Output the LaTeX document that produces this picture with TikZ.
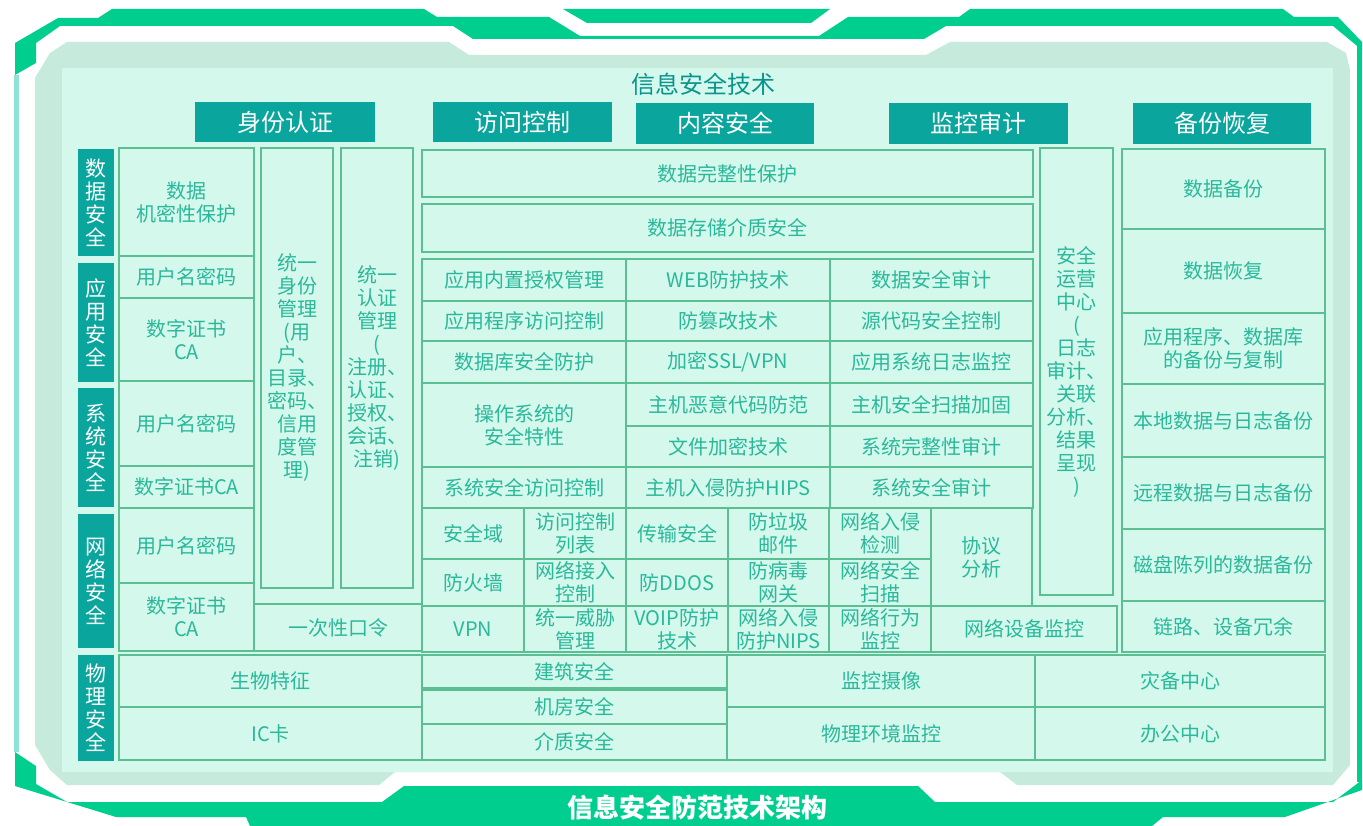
\documentclass[tikz,border=0pt]{standalone}
\usepackage{fontspec}
\setmainfont{Noto Sans CJK SC}

\definecolor{FrameGreen}{HTML}{00CE8F}
\definecolor{FrameLight}{HTML}{8FE3D6}
\definecolor{MintBand}{HTML}{C6EBDC}
\definecolor{PanelFill}{HTML}{D4F8EC}
\definecolor{HeadTeal}{HTML}{0AA59C}
\definecolor{CellLine}{HTML}{5CBF93}
\definecolor{CellText}{HTML}{2AB89B}

\tikzset{
  CellStyle/.style={draw=CellLine, line width=2.5pt, fill=PanelFill, text=CellText,
    align=center, inner sep=0pt, outer sep=0pt, font=\fontsize{20}{23}\selectfont},
  HeadStyle/.style={fill=HeadTeal, text=white, inner sep=0pt,
    font=\fontsize{24}{28}\selectfont},
  SideStyle/.style={fill=HeadTeal, text=white, align=center, inner sep=0pt,
    font=\fontsize{21}{23}\selectfont},
}

% box from (x1,y1) to (x2,y2), pixel units, y down
\newcommand{\InfoCell}[7][CellStyle]{%
  \pgfmathsetmacro{\cellX}{(#3+#5)/2}%
  \pgfmathsetmacro{\cellY}{(#4+#6)/2}%
  \pgfmathsetmacro{\cellW}{#5-#3}%
  \pgfmathsetmacro{\cellH}{#6-#4}%
  \node[#1, minimum width=\cellW pt, minimum height=\cellH pt] (#2) at (\cellX,\cellY) {#7};%
}

\begin{document}
\begin{tikzpicture}[x=1pt,y=-1pt]
    \useasboundingbox (0,0) rectangle (1363,826);
    \fill[white] (0,0) rectangle (1363,826);
    % frame
    \fill[FrameLight] (14,75) rectangle (19,752);
    \fill[FrameGreen] (15,75) -- (15,43) -- (58,18) -- (98,18) -- (112,9) -- (424,9)
        -- (437,17) -- (549,17) -- (580,36) -- (819,36) -- (848,17) -- (959,17)
        -- (970,9) -- (1283,9) -- (1294,17) -- (1338,17) -- (1362,42) -- (1362,50)
        -- (1333,26) -- (946,26) -- (924,39) -- (473,39) -- (453,26) -- (60,26)
        -- (36,43) -- (36,63) -- cycle;
    \fill[FrameGreen] (563,9) -- (830,9) -- (811,23) -- (587,23) -- cycle;
    \fill[FrameGreen] (1357,46) rectangle (1362,782);
    \fill[FrameGreen] (15,752) -- (36,766) -- (36,784) -- (67,802) -- (382,802)
        -- (404,786) -- (918,786) -- (935,802) -- (1333,802) -- (1362,780)
        -- (1362,790) -- (1285,817) -- (1163,817) -- (1152,826) -- (250,826)
        -- (246,817) -- (116,817) -- (15,786) -- cycle;
    \fill[MintBand] (35,78) -- (50,53) -- (67,42) -- (449,42) -- (469,55) -- (926,55)
        -- (950,42) -- (1327,42) -- (1346,53) -- (1350,70) -- (1350,765) -- (1333,785)
        -- (1017,785) -- (1000,772) -- (395,772) -- (379,785) -- (67,785) -- (50,770)
        -- (35,745) -- cycle;
    \fill[PanelFill] (62,68) rectangle (1333,772);
    \node[text=HeadTeal!90!black, font=\fontsize{24}{28}\selectfont] (title) at (703,84) {信息安全技术};
    \node[text=white, font=\bfseries\fontsize{26}{30}\selectfont] (caption) at (697,808) {信息安全防范技术架构};

    % headers
    \InfoCell[HeadStyle]{hID}{195}{102}{375}{142}{身份认证}
    \InfoCell[HeadStyle]{hAC}{433}{102}{612}{142}{访问控制}
    \InfoCell[HeadStyle]{hCS}{636}{103}{814}{144}{内容安全}
    \InfoCell[HeadStyle]{hMA}{889}{103}{1068}{144}{监控审计}
    \InfoCell[HeadStyle]{hBR}{1133}{103}{1311}{144}{备份恢复}

    % layers
    \InfoCell[SideStyle]{sData}{78}{149}{114}{256}{数\\据\\安\\全}
    \InfoCell[SideStyle]{sApp}{78}{263}{114}{382}{应\\用\\安\\全}
    \InfoCell[SideStyle]{sSys}{78}{388}{114}{507}{系\\统\\安\\全}
    \InfoCell[SideStyle]{sNet}{78}{514}{114}{648}{网\\络\\安\\全}
    \InfoCell[SideStyle]{sPhy}{78}{655}{114}{761}{物\\理\\安\\全}

    % identity
    \InfoCell{idSecret}{119}{148}{254}{256}{数据\\机密性保护}
    \InfoCell{idPwdA}{119}{256}{254}{298}{用户名密码}
    \InfoCell{idCaA}{119}{298}{254}{381}{数字证书\\CA}
    \InfoCell{idPwdS}{119}{381}{254}{466}{用户名密码}
    \InfoCell{idCaS}{119}{466}{254}{508}{数字证书CA}
    \InfoCell{idPwdN}{119}{508}{254}{583}{用户名密码}
    \InfoCell{idCaN}{119}{583}{254}{651}{数字证书\\CA}
    \InfoCell{idManage}{261}{148}{333}{588}{统一\\身份\\管理\\(用\\户、\\目录、\\密码、\\信用\\度管\\理)}
    \InfoCell{idAuth}{341}{148}{413}{588}{统一\\认证\\管理\\(\\注册、\\认证、\\授权、\\会话、\\注销)}
    \InfoCell{idOtp}{254}{604}{422}{651}{一次性口令}

    % data rows
    \InfoCell{dIntegrity}{422}{150}{1033}{197}{数据完整性保护}
    \InfoCell{dMedia}{422}{204}{1033}{252}{数据存储介质安全}

    % application and system
    \InfoCell{aAuthz}{422}{259}{626}{301}{应用内置授权管理}
    \InfoCell{aWeb}{626}{259}{830}{301}{WEB防护技术}
    \InfoCell{aAudit}{830}{259}{1033}{301}{数据安全审计}
    \InfoCell{aAccess}{422}{301}{626}{341}{应用程序访问控制}
    \InfoCell{aTamper}{626}{301}{830}{341}{防篡改技术}
    \InfoCell{aSource}{830}{301}{1033}{341}{源代码安全控制}
    \InfoCell{aDb}{422}{341}{626}{383}{数据库安全防护}
    \InfoCell{aSsl}{626}{341}{830}{383}{加密SSL/VPN}
    \InfoCell{aLog}{830}{341}{1033}{383}{应用系统日志监控}
    \InfoCell{sOs}{422}{383}{626}{467}{操作系统的\\安全特性}
    \InfoCell{sMal}{626}{383}{830}{426}{主机恶意代码防范}
    \InfoCell{sScan}{830}{383}{1033}{426}{主机安全扫描加固}
    \InfoCell{sFile}{626}{426}{830}{467}{文件加密技术}
    \InfoCell{sInteg}{830}{426}{1033}{467}{系统完整性审计}
    \InfoCell{sAccess}{422}{467}{626}{508}{系统安全访问控制}
    \InfoCell{sHips}{626}{467}{830}{508}{主机入侵防护HIPS}
    \InfoCell{sAudit}{830}{467}{1033}{508}{系统安全审计}

    % network
    \InfoCell{nDomain}{422}{508}{524}{559}{安全域}
    \InfoCell{nAcl}{524}{508}{626}{559}{访问控制\\列表}
    \InfoCell{nTrans}{626}{508}{728}{559}{传输安全}
    \InfoCell{nSpam}{728}{508}{829}{559}{防垃圾\\邮件}
    \InfoCell{nIds}{829}{508}{931}{559}{网络入侵\\检测}
    \InfoCell{nProto}{931}{508}{1032}{606}{协议\\分析}
    \InfoCell{nFw}{422}{559}{524}{606}{防火墙}
    \InfoCell{nNac}{524}{559}{626}{606}{网络接入\\控制}
    \InfoCell{nDdos}{626}{559}{728}{606}{防DDOS}
    \InfoCell{nAv}{728}{559}{829}{606}{防病毒\\网关}
    \InfoCell{nScan}{829}{559}{931}{606}{网络安全\\扫描}
    \InfoCell{nVpn}{422}{606}{524}{652}{VPN}
    \InfoCell{nUtm}{524}{606}{626}{652}{统一威胁\\管理}
    \InfoCell{nVoip}{626}{606}{728}{652}{VOIP防护\\技术}
    \InfoCell{nNips}{728}{606}{829}{652}{网络入侵\\防护NIPS}
    \InfoCell{nBehav}{829}{606}{931}{652}{网络行为\\监控}
    \InfoCell{nDev}{931}{606}{1117}{652}{网络设备监控}

    % monitoring
    \InfoCell{mSoc}{1040}{148}{1113}{595}{安全\\运营\\中心\\(\\日志\\审计、\\关联\\分析、\\结果\\呈现\\)}

    % backup
    \InfoCell{bBackup}{1122}{149}{1325}{229}{数据备份}
    \InfoCell{bRestore}{1122}{229}{1325}{313}{数据恢复}
    \InfoCell{bApp}{1122}{313}{1325}{384}{应用程序、数据库\\的备份与复制}
    \InfoCell{bLocal}{1122}{384}{1325}{457}{本地数据与日志备份}
    \InfoCell{bRemote}{1122}{457}{1325}{529}{远程数据与日志备份}
    \InfoCell{bRaid}{1122}{529}{1325}{601}{磁盘陈列的数据备份}
    \InfoCell{bLink}{1122}{601}{1325}{652}{链路、设备冗余}

    % physical
    \InfoCell{pBio}{119}{655}{422}{707}{生物特征}
    \InfoCell{pIc}{119}{707}{422}{760}{IC卡}
    \InfoCell{pBuild}{422}{655}{727}{688}{建筑安全}
    \InfoCell{pRoom}{422}{690}{727}{724}{机房安全}
    \InfoCell{pMedia}{422}{724}{727}{760}{介质安全}
    \InfoCell{pCam}{727}{655}{1035}{707}{监控摄像}
    \InfoCell{pEnv}{727}{707}{1035}{760}{物理环境监控}
    \InfoCell{pDr}{1035}{655}{1325}{707}{灾备中心}
    \InfoCell{pOffice}{1035}{707}{1325}{760}{办公中心}
\end{tikzpicture}
\end{document}
